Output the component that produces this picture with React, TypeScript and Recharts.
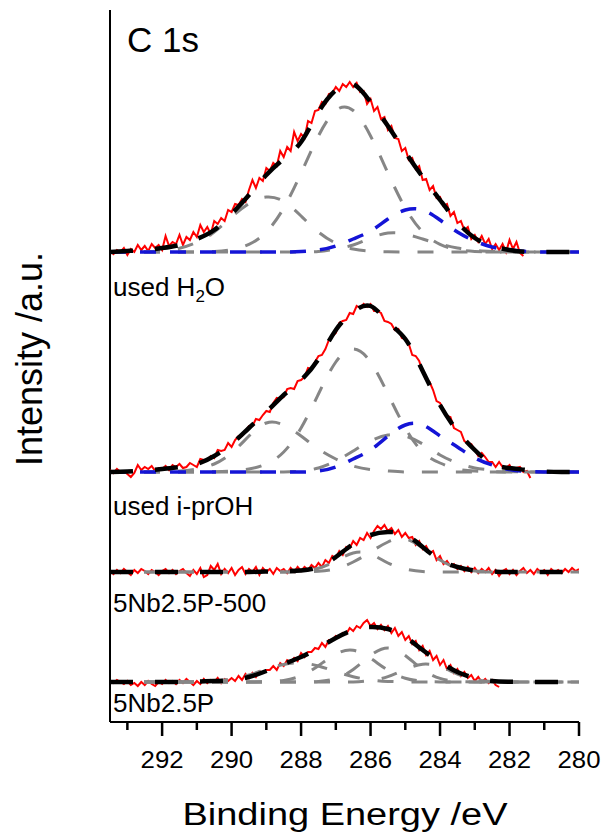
import React from "react";
import { LineChart, Line, XAxis, YAxis, ReferenceLine } from "recharts";

// binding energy grid of the fitted curves (eV)
const FIT_BE = [
  293.5, 293, 292.5, 292, 291.5, 291, 290.5, 290, 289.5, 289, 288.5, 288, 287.5, 287,
  286.5, 286, 285.5, 285, 284.5, 284, 283.5, 283, 282.5, 282, 281.5, 281, 280.5, 280,
];
// raw spectra are sampled every 0.1 eV starting at 293.5 eV
const RAW_START = 293.5;
const RAW_STEP = 0.1;

const BE_TICKS = [293, 292, 291, 290, 289, 288, 287, 286, 285, 284, 283, 282, 281, 280];
const BE_LABELS = [292, 290, 288, 286, 284, 282, 280];

// ---- used H2O ----
const h2oRaw = [
  1, -2, 2, 0, 4, -3, 3, 0, 7, 2,
  6, 1, 8, 4, 7, 2, 16, 6, 10, 8,
  17, 7, 15, 12, 20, 15, 27, 20, 25, 18,
  31, 28, 34, 31, 42, 40, 48, 47, 53, 50,
  62, 72, 64, 74, 71, 84, 81, 89, 86, 101,
  95, 105, 101, 120, 111, 118, 114, 131, 129, 141,
  142, 150, 148, 158, 159, 165, 161, 168, 165, 170,
  165, 169, 160, 161, 148, 153, 141, 145, 133, 135,
  122, 126, 114, 113, 101, 104, 92, 94, 83, 86,
  72, 73, 62, 66, 54, 55, 46, 48, 36, 40,
  29, 31, 22, 25, 13, 17, 10, 16, 8, 13,
  3, 8, 2, 8, 0, 12, 3, 10, -1, -4,
];
const h2oEnvelope = [0, 1, 2, 4, 7, 13, 22, 38, 57, 77, 93, 110, 140, 162, 168, 150, 126, 100, 75, 52, 30, 14, 6, 2, 0, 0, 0, 0];
const h2oGrayA = [0, 0, 0.3, 1.2, 3.7, 9.7, 20, 35, 48.5, 55, 50.6, 36, 20, 8.8, 3, 0.8, 0.2, 0, 0, 0, 0, 0, 0, 0, 0, 0, 0, 0];
const h2oGrayB = [0, 0, 0, 0, 0, 0.1, 0.6, 2.3, 7.6, 20, 44, 79, 116, 141.5, 141.5, 116, 79, 44, 20, 7.6, 2.3, 0.6, 0.1, 0, 0, 0, 0, 0];
const h2oGrayC = [0, 0, 0, 0, 0, 0, 0, 0, 0, 0, 0, 0, 0.5, 3, 7, 14, 19, 18, 13, 8, 4, 1.5, 0.5, 0, 0, 0, 0, 0];
const h2oBlue = [0, 0, 0, 0, 0, 0, 0, 0, 0, 0, 0, 0.5, 2, 6, 13, 21, 33, 42, 42, 32, 20, 11, 5, 2, 0.5, 0, 0, 0];

// ---- used i-prOH ----
const iprRaw = [
  2, -1, 3, 0, 1, -2, -5, -1, 7, 2,
  5, 3, 6, 1, 4, 3, 6, 2, 7, 5,
  8, 4, 5, 9, 7, 5, 13, 12, 12, 16,
  14, 22, 21, 22, 29, 25, 32, 36, 36, 41,
  46, 46, 53, 52, 57, 61, 60, 69, 74, 73,
  75, 83, 84, 83, 91, 92, 95, 104, 103, 110,
  116, 117, 123, 132, 136, 139, 149, 151, 152, 159,
  158, 166, 164, 168, 165, 168, 161, 161, 159, 151,
  150, 148, 142, 143, 134, 133, 128, 117, 116, 111,
  100, 92, 90, 82, 71, 69, 62, 56, 55, 44,
  42, 40, 31, 29, 28, 22, 16, 19, 15, 10,
  10, 5, 10, 5, 4, 7, 1, 4, 5, 0, 1, -6,
];
const iprEnvelope = [0, 0.5, 1.5, 3, 5, 8, 16, 28, 44, 60, 77, 92, 113, 142, 160, 166, 150, 133, 101, 67, 41, 22, 8, 4, 2, 0.5, 0, 0];
const iprGrayA = [0, 0, 0, 0.5, 1, 3, 8, 19, 36, 49, 47, 36, 23, 13, 6, 2.5, 1, 0, 0, 0, 0, 0, 0, 0, 0, 0, 0, 0];
const iprGrayB = [0, 0, 0, 0, 0, 0, 0.3, 1, 3, 8, 20, 44, 78, 110, 123, 110, 78, 44, 20, 9, 3, 1, 0.3, 0, 0, 0, 0, 0];
const iprGrayC = [0, 0, 0, 0, 0, 0, 0, 0, 0, 0, 0, 1, 4, 11, 21, 31, 37, 36, 28, 17, 9, 4, 2, 0.5, 0, 0, 0, 0];
const iprBlue = [0, 0, 0, 0, 0, 0, 0, 0, 0, 0, 0, 0, 1, 5, 13, 22, 36, 47, 47, 36, 25, 14, 7, 2.5, 0.5, 0, 0, 0];

// ---- 5Nb2.5P-500 ----
const p500Raw = [
  1, -2, 2, -1, 3, 0, -3, 2, -1, 3,
  1, -2, 2, 0, -3, 1, 3, -1, 2, -2,
  1, 3, -1, -4, 2, -2, 4, -5, -3, 6,
  2, 8, -2, 3, -1, 4, -3, 2, 5, -2,
  3, 0, 5, -3, 4, 0, 3, -2, 4, 1,
  3, -1, 4, 0, 5, 1, 5, 2, 7, 4,
  9, 5, 12, 9, 16, 14, 21, 17, 25, 24,
  31, 27, 34, 32, 39, 34, 41, 46, 43, 47,
  41, 44, 38, 42, 35, 39, 34, 35, 27, 31,
  23, 26, 19, 21, 12, 16, 8, 11, 6, 8,
  3, 6, 1, 5, 0, 4, -1, 3, 0, 4,
  -2, 2, -4, 1, 3, -2, 2, -3, 1, 4,
  -1, 2, -2, 3, 0, 2, -3, 3, 0, 2,
  -1, 3, 0, 4, 1, 3,
];
const p500Envelope = [0, 0, 0, 0, 0, 0, 0, 0, 0, 0.5, 1, 1.5, 5, 15, 28, 37, 40, 37, 25, 12, 5, 1.5, 0.5, 0, 0, 0, 0, 0];
const p500GrayA = [0, 0, 0, 0, 0, 0, 0, 0, 0, 0, 0, 0.1, 0.8, 3.3, 10, 20, 30, 33, 24, 12, 4, 1, 0.2, 0, 0, 0, 0, 0];
const p500GrayB = [0, 0, 0, 0, 0, 0, 0, 0, 0, 0, 0, 0.7, 3.7, 11, 19, 18, 9, 3, 0.5, 0, 0, 0, 0, 0, 0, 0, 0, 0];

// ---- 5Nb2.5P ----
const freshRaw = [
  1, -1, 2, 0, -2, 1, -3, -1, -4, 0,
  -3, 1, -2, -4, 0, -2, 2, -1, 1, -2,
  2, -1, 3, 0, -3, 1, -2, 3, -1, 2,
  0, 4, -1, 3, 1, 4, 1, 6, 2, 8,
  4, 9, 5, 11, 9, 12, 12, 16, 12, 19,
  16, 22, 20, 24, 21, 29, 25, 30, 30, 34,
  33, 39, 35, 42, 42, 46, 45, 49, 48, 54,
  51, 56, 54, 59, 62, 56, 59, 53, 57, 52,
  56, 49, 54, 46, 50, 42, 46, 38, 41, 32,
  36, 27, 31, 22, 26, 17, 22, 13, 17, 9,
  13, 6, 10, 4, 7, 1, 5, 0, 3, -1,
  2, -3, -5,
];
const freshEnvelope = [0, 0, 0, 0, 0, 0.5, 1, 2, 5, 11, 18, 25, 34, 44, 52, 55, 53, 45, 32, 20, 10, 4, 1, 0.3, 0, 0, 0, 0];
const freshGrayA = [0, 0, 0, 0, 0, 0.3, 1.1, 3, 7, 12.7, 17.5, 19, 16, 10.4, 5.3, 2.1, 0.6, 0.2, 0, 0, 0, 0, 0, 0, 0, 0, 0, 0];
const freshGrayB = [0, 0, 0, 0, 0, 0, 0, 0, 0, 0.3, 1.6, 6.2, 16.3, 28, 31.7, 23.7, 11.8, 3.8, 0.8, 0.1, 0, 0, 0, 0, 0, 0, 0, 0];
const freshGrayC = [0, 0, 0, 0, 0, 0, 0, 0, 0, 0, 0, 0, 0.6, 3.6, 12.5, 26.5, 34, 26.5, 12.5, 3.6, 0.6, 0, 0, 0, 0, 0, 0, 0];
const freshGrayD = [0, 0, 0, 0, 0, 0, 0, 0, 0, 0, 0, 0, 0, 0, 0, 1.4, 5.4, 12.6, 17.8, 15.3, 8, 2.5, 0.5, 0.1, 0, 0, 0, 0];

// vertical stacking offsets (a.u.)
const OFFSET_H2O = 470;
const OFFSET_IPR = 250;
const OFFSET_P500 = 150;
const OFFSET_FRESH = 40;

const raw = (vals: number[], off: number) =>
  vals.map((v, i) => ({ be: +(RAW_START - i * RAW_STEP).toFixed(2), v: v + off }));
const fit = (vals: number[], off: number) => FIT_BE.map((be, i) => ({ be, v: vals[i] + off }));

const SPECTRA = [
  { id: "h2o", off: OFFSET_H2O, raw: h2oRaw, env: h2oEnvelope, grays: [h2oGrayA, h2oGrayB, h2oGrayC], blues: [h2oBlue] },
  { id: "ipr", off: OFFSET_IPR, raw: iprRaw, env: iprEnvelope, grays: [iprGrayA, iprGrayB, iprGrayC], blues: [iprBlue] },
  { id: "p500", off: OFFSET_P500, raw: p500Raw, env: p500Envelope, grays: [p500GrayA, p500GrayB], blues: [] },
  { id: "fresh", off: OFFSET_FRESH, raw: freshRaw, env: freshEnvelope, grays: [freshGrayA, freshGrayB, freshGrayC, freshGrayD], blues: [] },
];

const FONT = "'Liberation Sans', Arial, Helvetica, sans-serif";

function BeTick(props: any) {
  const { x, y, payload } = props;
  const v = payload.value;
  const major = BE_LABELS.includes(v);
  return (
    <g>
      <line x1={x} x2={x} y1={y} y2={y + (major ? 14 : 8)} stroke="#000" strokeWidth={2.5} />
      {major && (
        <text
          x={x}
          y={y + 46}
          textAnchor="middle"
          fontSize={23}
          fontFamily={FONT}
          textLength={43}
          lengthAdjust="spacingAndGlyphs"
          fill="#000"
        >
          {v}
        </text>
      )}
    </g>
  );
}

export default function App() {
  const lines: React.ReactNode[] = [];
  SPECTRA.forEach((s) => {
    lines.push(
      <Line key={s.id + "-raw"} data={raw(s.raw, s.off)} dataKey="v" type="linear" stroke="#ff0000"
        strokeWidth={2} dot={false} isAnimationActive={false} />
    );
    s.grays.forEach((g, k) =>
      lines.push(
        <Line key={s.id + "-g" + k} data={fit(g, s.off)} dataKey="v" type="natural" stroke="#868686"
          strokeWidth={3} strokeDasharray="16 18" dot={false} isAnimationActive={false} />
      )
    );
    s.blues.forEach((b, k) =>
      lines.push(
        <Line key={s.id + "-b" + k} data={fit(b, s.off)} dataKey="v" type="natural" stroke="#1414d6"
          strokeWidth={3.5} strokeDasharray="16 14" dot={false} isAnimationActive={false} />
      )
    );
    lines.push(
      <Line key={s.id + "-env"} data={fit(s.env, s.off)} dataKey="v" type="natural" stroke="#000"
        strokeWidth={4.5} strokeDasharray="23 22" dot={false} isAnimationActive={false} />
    );
  });

  return (
    <div style={{ position: "absolute", left: 0, top: 0, width: 608, height: 838, background: "#fff", fontFamily: FONT }}>
      <LineChart width={608} height={838} margin={{ top: 10, right: 29, bottom: 0, left: 110 }}>
        <XAxis
          dataKey="be"
          type="number"
          domain={[280, 293.5]}
          reversed
          allowDataOverflow
          ticks={BE_TICKS}
          interval={0}
          height={116}
          tickSize={0}
          tickMargin={0}
          tickLine={false}
          axisLine={{ stroke: "#000", strokeWidth: 2 }}
          tick={<BeTick />}
        />
        <YAxis hide type="number" domain={[0, 712]} allowDataOverflow />
        <ReferenceLine x={293.5} stroke="#000" strokeWidth={2} />
        {lines}
      </LineChart>
      <svg width={608} height={838} style={{ position: "absolute", left: 0, top: 0, pointerEvents: "none" }}
        fontFamily={FONT} fill="#000">
        <text x={127} y={52} fontSize={35}>C 1s</text>
        <text x={113} y={296} fontSize={26}>
          used H<tspan fontSize={17} dy={6}>2</tspan><tspan dy={-6}>O</tspan>
        </text>
        <text x={113} y={515} fontSize={26}>used i-prOH</text>
        <text x={113} y={612} fontSize={26}>5Nb2.5P-500</text>
        <text x={113} y={712} fontSize={26}>5Nb2.5P</text>
        <text transform="translate(42,359) rotate(-90)" textAnchor="middle" fontSize={36}
          textLength={214} lengthAdjust="spacingAndGlyphs">Intensity /a.u.</text>
        <text x={345} y={825} textAnchor="middle" fontSize={31} textLength={325} lengthAdjust="spacingAndGlyphs">
          Binding Energy /eV
        </text>
      </svg>
    </div>
  );
}
